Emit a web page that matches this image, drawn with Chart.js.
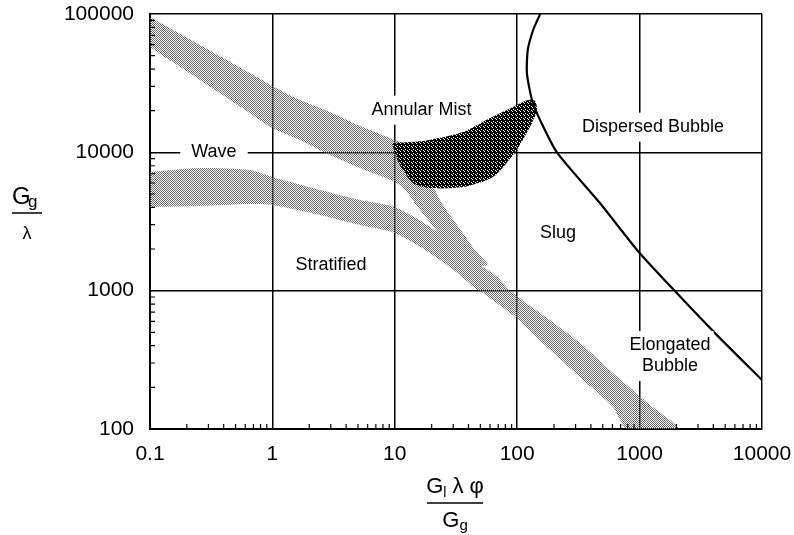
<!DOCTYPE html>
<html>
<head>
<meta charset="utf-8">
<title>Flow pattern map</title>
<script src="https://cdn.jsdelivr.net/npm/chart.js@4.4.1/dist/chart.umd.min.js"></script>
<style>
  html, body { margin: 0; padding: 0; background: #fff; }
  canvas { display: block; }
</style>
</head>
<body>
<canvas id="flowMap" width="794" height="535"></canvas>
<script>
// Labelled decades on each axis
const xTicks = [0.1, 1, 10, 100, 1000, 10000];
const yTicks = [100, 1000, 10000, 100000];
const minorSteps = [2, 3, 4, 5, 6, 7, 8, 9];

// Upper stippled band (wave / annular boundary, turning down toward slug)
const upperBandX = [0.1, 0.256, 0.656, 1, 1.68, 2.95, 5.2, 10, 14.6, 18.7, 23.4, 31, 45.2, 57.7,
                    34.1, 23.4, 16.1, 12.1, 10, 5.2, 2.95, 1.68, 1, 0.656, 0.256, 0.1];
const upperBandY = [95000, 59700, 37400, 30200, 23900, 19600, 15500, 12300, 10700, 6850, 4520, 3130, 1970, 1530,
                    1610, 2520, 3830, 5340, 6100, 7700, 9560, 12300, 15000, 19200, 33300, 57700];

// Lower stippled band (stratified / wave boundary)
const lowerBandX = [0.1, 0.256, 0.656, 1, 2.45, 5.2, 10, 19.4, 34.1, 49.7,
                    49.7, 34.1, 19.4, 10, 5.2, 2.45, 1, 0.656, 0.256, 0.1];
const lowerBandY = [7210, 7700, 7450, 6630, 5340, 4520, 4020, 2880, 1970, 1480,
                    1000, 1300, 1870, 2610, 2980, 3520, 4160, 4230, 4090, 4020];

// Merged band running down to the bottom axis
const mergedBandX = [41.1, 49.7, 65.9, 92.4, 175, 326, 606, 1216, 2059, 789, 606, 326, 175, 92.4, 49.7, 34.1];
const mergedBandY = [1810, 1530, 1300, 961, 634, 418, 254, 149, 100, 100, 144, 237, 391, 666, 1000, 1300];

// Dark transition zone between annular mist and slug
const darkZoneX = [9.49, 13.3, 19.4, 36.1, 60, 92.4, 122, 140, 145, 132, 111, 92.4, 63.4, 36.1, 19.4, 14.1, 11.0, 9.85];
const darkZoneY = [11700, 11900, 12300, 14000, 17700, 21300, 23900, 23500, 20200, 16300, 12300, 9560, 6630, 5610, 5520, 6000, 8090, 10400];

// Dispersed bubble boundary
const bubbleX = [154, 135, 122, 120, 132, 154, 211, 474, 952, 1841, 4285, 10000];
const bubbleY = [100000, 76600, 54900, 37400, 23900, 17100, 10000, 4300, 1970, 1044, 477, 226];

const regionLabels = [
  { lines: ['Wave'], x: 0.333, y: 10000, padX: 11 },
  { lines: ['Annular Mist'], x: 16.5, y: 20200, padX: 8 },
  { lines: ['Dispersed Bubble'], x: 1286, y: 15200, padX: 8 },
  { lines: ['Slug'], x: 215, y: 2610, padX: 4 },
  { lines: ['Stratified'], x: 3.01, y: 1530, padX: 4 },
  { lines: ['Elongated', 'Bubble'], x: 1771, y: 337, padX: 3 },
];

const FONT = '"Liberation Sans", Arial, Helvetica, sans-serif';

function zip(xs, ys) {
  return xs.map((x, i) => ({ x, y: ys[i] }));
}

function makeStipple(size, dots, dotColor, bg) {
  const c = document.createElement('canvas');
  c.width = c.height = size;
  const g = c.getContext('2d');
  if (bg) {
    g.fillStyle = bg;
    g.fillRect(0, 0, size, size);
  }
  g.fillStyle = dotColor;
  dots.forEach(([x, y]) => g.fillRect(x, y, 1, 1));
  return g.createPattern(c, 'repeat');
}

// mottled halftone tile for the light bands
const lightStipple = makeStipple(6,
  [[0, 0], [2, 0], [4, 0], [1, 1], [3, 1], [5, 1], [0, 2], [4, 2], [1, 3], [3, 3], [5, 3],
   [0, 4], [2, 4], [4, 4], [3, 5], [5, 5], [2, 2], [1, 5]],
  '#6a6a6a', null);
const darkStipple = makeStipple(4, [[1, 1], [3, 2], [0, 3]], '#ffffff', '#000000');

function shape(data, fillStyle, order) {
  return {
    data,
    showLine: true,
    fill: 'shape',
    backgroundColor: fillStyle,
    borderColor: 'transparent',
    borderWidth: 0,
    pointRadius: 0,
    tension: 0.25,
    order,
  };
}

const overlayPlugin = {
  id: 'overlay',
  afterDatasetsDraw(chart) {
    const { ctx, scales: { x, y } } = chart;
    ctx.save();
    ctx.font = '18px ' + FONT;
    ctx.textAlign = 'center';
    ctx.textBaseline = 'middle';
    const lineH = 21;
    regionLabels.forEach((lbl) => {
      const cx = x.getPixelForValue(lbl.x);
      const cy = y.getPixelForValue(lbl.y);
      const w = Math.max(...lbl.lines.map((t) => ctx.measureText(t).width));
      const h = lbl.lines.length * lineH;
      ctx.fillStyle = '#fff';
      ctx.fillRect(cx - w / 2 - lbl.padX, cy - h / 2 - 4, w + 2 * lbl.padX, h + 8);
      ctx.fillStyle = '#000';
      lbl.lines.forEach((t, i) => ctx.fillText(t, cx, cy - h / 2 + lineH * (i + 0.5)));
    });
    ctx.restore();
  },
  afterDraw(chart) {
    const { ctx, chartArea: area, scales: { x, y } } = chart;
    ctx.save();
    ctx.strokeStyle = '#000';
    ctx.lineWidth = 1.2;

    // inward minor ticks on bottom and left axes
    ctx.beginPath();
    xTicks.slice(0, -1).forEach((d) => {
      minorSteps.forEach((k) => {
        const px = x.getPixelForValue(d * k);
        ctx.moveTo(px, area.bottom);
        ctx.lineTo(px, area.bottom - 5);
      });
    });
    yTicks.slice(0, -1).forEach((d) => {
      minorSteps.forEach((k) => {
        const py = y.getPixelForValue(d * k);
        ctx.moveTo(area.left, py);
        ctx.lineTo(area.left + 5, py);
      });
    });
    ctx.stroke();

    ctx.fillStyle = '#000';
    ctx.textBaseline = 'alphabetic';

    // y title: Gg over lambda
    ctx.textAlign = 'left';
    ctx.font = '24px ' + FONT;
    ctx.fillText('G', 12, 204);
    ctx.font = '17px ' + FONT;
    ctx.fillText('g', 28, 207);
    ctx.lineWidth = 1.5;
    ctx.beginPath();
    ctx.moveTo(12, 213);
    ctx.lineTo(42, 213);
    ctx.stroke();
    ctx.textAlign = 'center';
    ctx.font = '18px ' + FONT;
    ctx.fillText('λ', 27, 239);

    // x title: Gl lambda phi over Gg
    const drawParts = (parts, centerX, baseY) => {
      let total = 0;
      parts.forEach((p) => {
        ctx.font = p.size + 'px ' + FONT;
        p.w = ctx.measureText(p.t).width;
        total += p.w;
      });
      let px = centerX - total / 2;
      ctx.textAlign = 'left';
      parts.forEach((p) => {
        ctx.font = p.size + 'px ' + FONT;
        ctx.fillText(p.t, px, baseY + p.dy);
        px += p.w;
      });
    };
    drawParts([
      { t: 'G', size: 22, dy: 0 },
      { t: 'l', size: 14, dy: 4 },
      { t: ' λ ', size: 22, dy: 0 },
      { t: 'φ', size: 22, dy: 0 },
    ], 455, 493);
    ctx.beginPath();
    ctx.moveTo(427, 503);
    ctx.lineTo(483, 503);
    ctx.stroke();
    drawParts([{ t: 'G', size: 22, dy: 0 }, { t: 'g', size: 15, dy: 3 }], 455, 527);

    ctx.restore();
  },
};

new Chart(document.getElementById('flowMap'), {
  type: 'scatter',
  data: {
    datasets: [
      {
        data: zip(bubbleX, bubbleY),
        showLine: true,
        fill: false,
        borderColor: '#000',
        borderWidth: 2.2,
        pointRadius: 0,
        tension: 0.2,
        order: 0,
      },
      shape(zip(darkZoneX, darkZoneY), darkStipple, 1),
      shape(zip(upperBandX, upperBandY), lightStipple, 2),
      shape(zip(lowerBandX, lowerBandY), lightStipple, 3),
      shape(zip(mergedBandX, mergedBandY), lightStipple, 4),
    ],
  },
  options: {
    responsive: false,
    animation: false,
    events: [],
    layout: { padding: { top: 14, right: 32, left: 0, bottom: 0 } },
    plugins: {
      legend: { display: false },
      tooltip: { enabled: false },
    },
    scales: {
      x: {
        type: 'logarithmic',
        min: 0.1,
        max: 10000,
        afterBuildTicks: (s) => { s.ticks = xTicks.map((v) => ({ value: v })); },
        afterFit: (s) => {
          s.height = 106;
          s.paddingLeft = 0;
          s.paddingRight = 0;
        },
        grid: { color: '#000', lineWidth: 1.5, drawTicks: false },
        border: { color: '#000', width: 2 },
        ticks: {
          color: '#000',
          padding: 13,
          maxRotation: 0,
          autoSkip: false,
          font: { family: FONT, size: 21 },
          callback: (v) => String(v),
        },
      },
      y: {
        type: 'logarithmic',
        min: 100,
        max: 100000,
        afterBuildTicks: (s) => { s.ticks = yTicks.map((v) => ({ value: v })); },
        afterFit: (s) => {
          s.width = 150;
          s.paddingTop = 0;
          s.paddingBottom = 0;
        },
        grid: { color: '#000', lineWidth: 1.5, drawTicks: false },
        border: { color: '#000', width: 2 },
        ticks: {
          color: '#000',
          padding: 16,
          autoSkip: false,
          font: { family: FONT, size: 21 },
          callback: (v) => String(v),
        },
      },
    },
  },
  plugins: [overlayPlugin],
});
</script>
</body>
</html>
